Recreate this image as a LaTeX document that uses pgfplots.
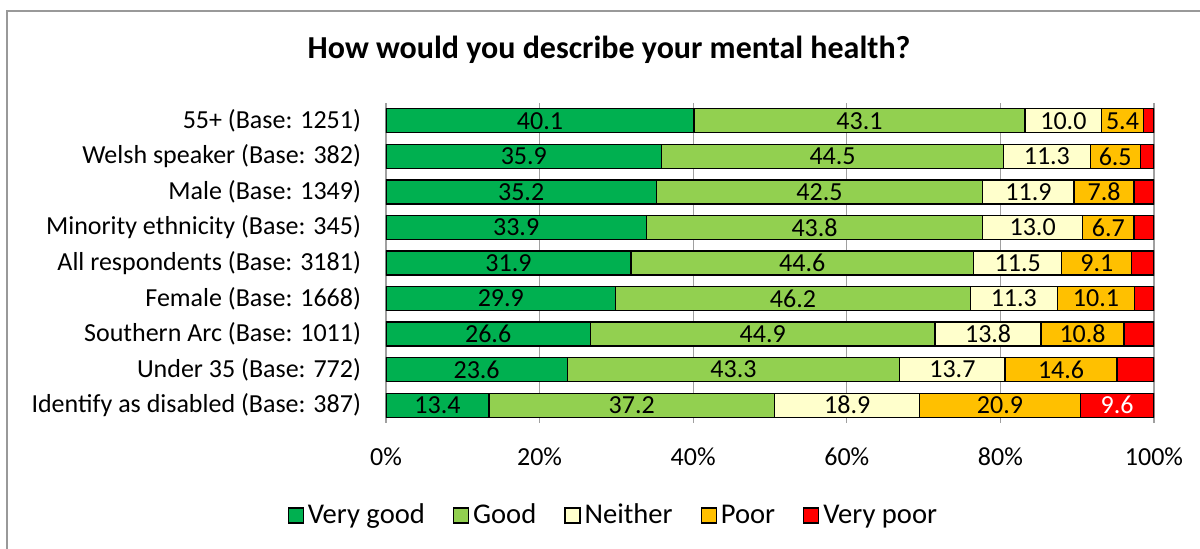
\documentclass[border=0pt]{standalone}
\usepackage{fontspec}
\setmainfont{Carlito}
\usepackage{pgfplots}
\usepackage{pgfplotstable}
\pgfplotsset{compat=1.18}
\definecolor{cVG}{HTML}{00B050}
\definecolor{cG}{HTML}{92D050}
\definecolor{cN}{HTML}{FFFFCC}
\definecolor{cP}{HTML}{FFC000}
\definecolor{cVP}{HTML}{FF0000}
\definecolor{gridc}{HTML}{A0A0A0}
\pgfplotstableread{
idx vg g n p vp vplbl
0 13.4 37.2 18.9 20.9 9.6 9.6
1 23.6 43.3 13.7 14.6 4.8 {}
2 26.6 44.9 13.8 10.8 3.9 {}
3 29.9 46.2 11.3 10.1 2.5 {}
4 31.9 44.6 11.5 9.1 2.9 {}
5 33.9 43.8 13.0 6.7 2.6 {}
6 35.2 42.5 11.9 7.8 2.6 {}
7 35.9 44.5 11.3 6.5 1.8 {}
8 40.1 43.1 10.0 5.4 1.4 {}
}\datatable
\newcommand{\lfont}{\fontsize{13}{15.5}\selectfont}
\pgfplotsset{
  mybar/.style={fill=#1, draw=black, line width=0.65pt,
    /pgfplots/legend image code/.code={\draw[##1,draw=black,line width=0.6pt] (0pt,-3.75pt) rectangle (7.5pt,3.75pt);}},
  frame/.style={at={(193pt,63pt)}, anchor=south west,
    scale only axis, width=384pt, height=160pt,
    xmin=0, xmax=100, ymin=-0.5, ymax=8.5},
  lab/.style={draw=none, mark=none, point meta=explicit,
    nodes near coords={\pgfmathprintnumber[fixed,fixed zerofill,precision=1,assume math mode=true]{\pgfplotspointmeta}},
    nodes near coords style={font=\lfont, text=black, anchor=center, inner sep=0pt}},
}
\begin{document}
\begin{tikzpicture}
\useasboundingbox (0,0) rectangle (600pt,274.5pt);
\fill[white] (0,0) rectangle (600pt,274.5pt);
\draw[gray!80, line width=0.6pt] (3.5pt,-2pt) -- (3.5pt,269pt) -- (602pt,269pt);
\node[font=\fontsize{16}{19}\selectfont\bfseries] at (304.5pt,249.5pt) {How would you describe your mental health?};
\begin{axis}[
  frame,
  xbar stacked, bar width=0.675,
  axis line style={draw=none},
  xtick={0,20,40,60,80,100},
  xticklabels={0\%,20\%,40\%,60\%,80\%,100\%},
  ytick={0,...,8},
  yticklabels={{Identify as disabled (Base: 387)},{Under 35 (Base: 772)},{Southern Arc (Base: 1011)},{Female (Base: 1668)},{All respondents (Base: 3181)},{Minority ethnicity (Base: 345)},{Male (Base: 1349)},{Welsh speaker (Base: 382)},{55+ (Base: 1251)}},
  major tick length=0pt,
  xmajorgrids, grid style={gridc, line width=0.65pt},
  tick label style={font=\lfont, text=black},
  yticklabel style={xshift=-9pt},
  xticklabel style={anchor=center, yshift=-17pt},
  legend columns=5,
  legend style={draw=none, fill=none, font=\fontsize{14.3}{17}\selectfont, at={(0.2974,-0.2891)}, anchor=center,
    /tikz/every even column/.append style={column sep=12pt}},
  legend cell align=left,
]
\addplot[mybar=cVG] table[x=vg, y=idx] {\datatable};
\addplot[mybar=cG] table[x=g, y=idx] {\datatable};
\addplot[mybar=cN] table[x=n, y=idx] {\datatable};
\addplot[mybar=cP] table[x=p, y=idx] {\datatable};
\addplot[mybar=cVP] table[x=vp, y=idx] {\datatable};
\legend{Very good, Good, Neither, Poor, Very poor}
\end{axis}
\begin{axis}[frame, hide axis, clip=false]
\addplot[lab] table[x expr={\thisrow{vg}/2}, y=idx, meta=vg] {\datatable};
\addplot[lab] table[x expr={\thisrow{vg}+\thisrow{g}/2}, y=idx, meta=g] {\datatable};
\addplot[lab] table[x expr={\thisrow{vg}+\thisrow{g}+\thisrow{n}/2}, y=idx, meta=n] {\datatable};
\addplot[lab] table[x expr={\thisrow{vg}+\thisrow{g}+\thisrow{n}+\thisrow{p}/2}, y=idx, meta=p] {\datatable};
\addplot[draw=none, mark=none, point meta=explicit symbolic, nodes near coords,
  nodes near coords style={font=\lfont, text=white, anchor=center, inner sep=0pt}]
  table[x expr={\thisrow{vg}+\thisrow{g}+\thisrow{n}+\thisrow{p}+\thisrow{vp}/2}, y=idx, meta=vplbl] {\datatable};
\end{axis}
\end{tikzpicture}
\end{document}
